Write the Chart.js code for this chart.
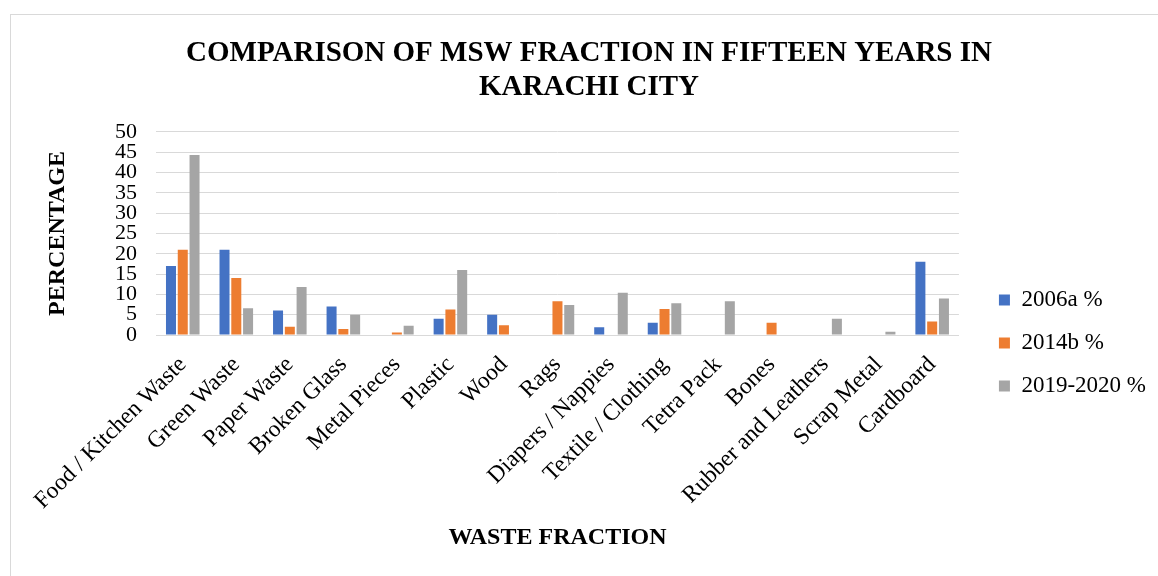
<!DOCTYPE html>
<html>
<head>
<meta charset="utf-8">
<script src="https://cdn.jsdelivr.net/npm/chart.js@4/dist/chart.umd.min.js"></script>
<style>
  html, body { margin: 0; padding: 0; background: #fff; }
  #frame { position: absolute; left: 10px; top: 14px; width: 1160px; height: 600px; border: 1px solid #d9d9d9; box-sizing: border-box; }
  #wrap { position: absolute; left: 0; top: 0; width: 1158px; height: 576px; }
</style>
</head>
<body>
<div id="frame"></div>
<div id="wrap"><canvas id="chart" width="1158" height="576"></canvas></div>
<script>
// waste categories
const categories = [
  'Food / Kitchen Waste', 'Green Waste', 'Paper Waste', 'Broken Glass', 'Metal Pieces',
  'Plastic', 'Wood', 'Rags', 'Diapers / Nappies', 'Textile / Clothing',
  'Tetra Pack', 'Bones', 'Rubber and Leathers', 'Scrap Metal', 'Cardboard'
];

// percentages per survey
const values2006 = [17, 21, 6, 7, 0, 4, 5, 0, 1.9, 3, 0, 0, 0, 0, 18];
const values2014 = [21, 14, 2, 1.5, 0.6, 6.3, 2.4, 8.3, 0, 6.4, 0, 3, 0, 0, 3.3];
const values2019 = [44.3, 6.6, 11.8, 5, 2.3, 16, 0, 7.4, 10.4, 7.8, 8.3, 0, 4, 0.8, 9];

const seriesNames = ['2006a %', '2014b %', '2019-2020 %'];
const yTicks = [0, 5, 10, 15, 20, 25, 30, 35, 40, 45, 50];

const serif = '"Liberation Serif", "Times New Roman", serif';

var chart = new Chart(document.getElementById('chart'), {
  type: 'bar',
  data: {
    labels: categories,
    datasets: [
      { label: seriesNames[0], data: values2006, backgroundColor: '#4472C4' },
      { label: seriesNames[1], data: values2014, backgroundColor: '#ED7D31' },
      { label: seriesNames[2], data: values2019, backgroundColor: '#A5A5A5' }
    ]
  },
  options: {
    responsive: false,
    animation: false,
    layout: { padding: { left: 22, right: 2, top: 0, bottom: 0 } },
    datasets: {
      bar: { categoryPercentage: 0.66, barPercentage: 0.85, borderWidth: 0 }
    },
    scales: {
      x: {
        grid: { display: false },
        border: { display: true, color: '#d9d9d9', width: 1 },
        ticks: {
          color: '#000',
          font: { family: serif, size: 23.5 },
          minRotation: 45,
          maxRotation: 45,
          autoSkip: false,
          padding: 8
        },
        title: {
          display: true,
          text: 'WASTE FRACTION',
          color: '#000',
          font: { family: serif, size: 24, weight: 'bold' },
          padding: { top: 0, bottom: 24 }
        },
        afterFit: function (s) { s.height = 241; }
      },
      y: {
        min: 0,
        max: 50,
        afterBuildTicks: function (s) { s.ticks = yTicks.map(v => ({ value: v })); },
        grid: { color: '#d9d9d9', lineWidth: 1, drawTicks: false },
        border: { display: false },
        ticks: {
          color: '#000',
          font: { family: serif, size: 22 },
          autoSkip: false,
          padding: 19
        },
        title: {
          display: true,
          text: 'PERCENTAGE',
          color: '#000',
          font: { family: serif, size: 24, weight: 'bold' },
          padding: { top: 21, bottom: 0 }
        },
        afterFit: function (s) { s.width = 134; }
      },
      gap: {
        type: 'linear',
        position: 'right',
        display: true,
        min: 0,
        max: 50,
        grid: { display: false },
        border: { display: false },
        ticks: { display: false },
        afterFit: function (s) { s.width = 20; }
      }
    },
    plugins: {
      title: {
        display: true,
        text: ['COMPARISON OF MSW FRACTION IN FIFTEEN YEARS IN', 'KARACHI CITY'],
        color: '#000',
        font: { family: serif, size: 29, weight: 'bold', lineHeight: 1.17 },
        padding: { top: 37, bottom: 27 }
      },
      legend: {
        position: 'right',
        title: { display: true, text: ' ', font: { size: 10, lineHeight: 1 }, padding: { top: 100, bottom: 0 } },
        labels: {
          color: '#000',
          font: { family: serif, size: 23 },
          boxWidth: 11,
          boxHeight: 11,
          padding: 20
        }
      },
      tooltip: { enabled: false }
    }
  }
});
</script>
</body>
</html>
